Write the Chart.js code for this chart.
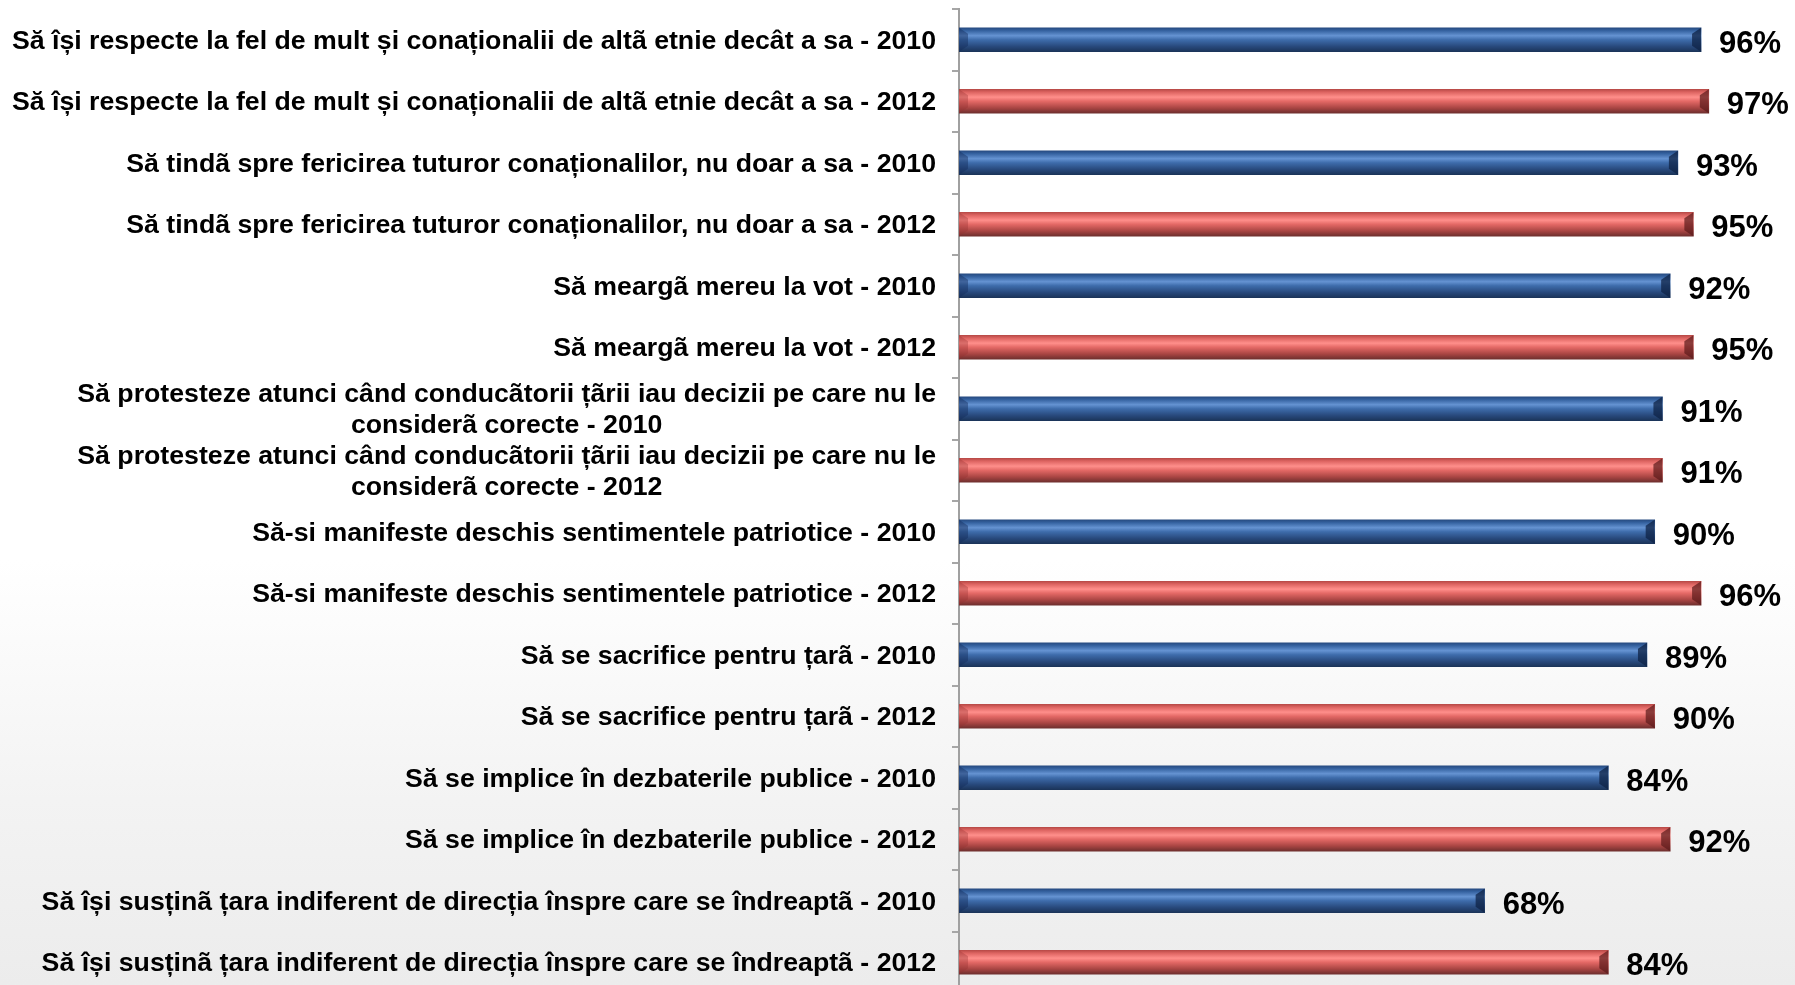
<!DOCTYPE html>
<html>
<head>
<meta charset="utf-8">
<script src="https://cdn.jsdelivr.net/npm/chart.js@4/dist/chart.umd.min.js"></script>
<style>
html,body{margin:0;padding:0;overflow:hidden;width:1795px;height:985px;}
body{background:linear-gradient(to bottom,#ffffff 0px,#ffffff 560px,#f3f3f3 800px,#ececec 985px);}
#wrap{position:absolute;left:0;top:0;width:1795px;height:1000px;}
</style>
</head>
<body>
<div id="wrap"><canvas id="c"></canvas></div>
<script>
// ---- data ----
const topics = [
  "Să își respecte la fel de mult și conaționalii de altã etnie decât a sa",
  "Să tindã spre fericirea tuturor conaționalilor, nu doar a sa",
  "Să meargã mereu la vot",
  ["Să protesteze atunci când conducãtorii țãrii iau decizii pe care nu le", "considerã corecte"],
  "Să-si manifeste deschis sentimentele patriotice",
  "Să se sacrifice pentru țarã",
  "Să se implice în dezbaterile publice",
  "Să își susținã țara indiferent de direcția înspre care se îndreaptã"
];
const years = ["2010", "2012"];
const values2010 = [96, 93, 92, 91, 90, 89, 84, 68];
const values2012 = [97, 95, 95, 91, 96, 90, 92, 84];

// build categories / values (2010 then 2012 for each topic)
const labels = [];
const values = [];
const yearOf = [];
topics.forEach((t, i) => {
  [values2010[i], values2012[i]].forEach((v, k) => {
    const y = years[k];
    if (Array.isArray(t)) labels.push([t[0], t[1] + " - " + y]);
    else labels.push(t + " - " + y);
    values.push(v);
    yearOf.push(y);
  });
});

const BAR_T = 24;
const blueStops = [[0,'#264a80'],[0.12,'#3562a0'],[0.33,'#6593d2'],[0.5,'#3e6cab'],[0.78,'#28497c'],[1,'#1b3459']];
const redStops  = [[0,'#b84a47'],[0.12,'#dd6461'],[0.33,'#ff8f8b'],[0.5,'#e46966'],[0.78,'#a94543'],[1,'#6e2f2e']];

function barFill(ctx) {
  const chart = ctx.chart;
  const stops = yearOf[ctx.dataIndex] === "2010" ? blueStops : redStops;
  if (!chart.chartArea || ctx.type !== 'data') return stops[3][1];
  const yc = chart.scales.y.getPixelForValue(ctx.dataIndex);
  const g = chart.ctx.createLinearGradient(0, yc - BAR_T / 2, 0, yc + BAR_T / 2);
  stops.forEach(s => g.addColorStop(s[0], s[1]));
  return g;
}

const LABEL_FONT = 'bold 26.7px "Liberation Sans", Arial, sans-serif';
const VALUE_FONT = 'bold 31px "Liberation Sans", Arial, sans-serif';

const textPlugin = {
  id: 'texts',
  afterDatasetsDraw(chart) {
    const c = chart.ctx;
    const yS = chart.scales.y;
    c.save();
    // category labels
    c.font = LABEL_FONT;
    c.fillStyle = '#000';
    c.textBaseline = 'alphabetic';
    c.textAlign = 'center';
    const right = yS.right - 23;
    labels.forEach((lab, i) => {
      const yc = yS.getPixelForValue(i);
      const lines = Array.isArray(lab) ? lab : [lab];
      const maxW = Math.max(...lines.map(l => c.measureText(l).width));
      const lh = 31;
      lines.forEach((l, k) => {
        const y = yc + (k - (lines.length - 1) / 2) * lh + 9;
        c.fillText(l, right - maxW / 2, y);
      });
    });
    // bevel ends + value labels
    const meta = chart.getDatasetMeta(0);
    meta.data.forEach((bar, i) => {
      const xEnd = bar.x, yc = bar.y, h = BAR_T;
      const dark = yearOf[i] === "2010" ? 'rgba(15,35,70,0.75)' : 'rgba(90,25,25,0.7)';
      c.fillStyle = dark;
      c.beginPath();
      c.moveTo(xEnd, yc - h / 2);
      c.lineTo(xEnd, yc + h / 2);
      c.lineTo(xEnd - 9, yc + h / 2 - 6);
      c.lineTo(xEnd - 9, yc - h / 2 + 6);
      c.closePath();
      c.fill();
      c.fillStyle = yearOf[i] === "2010" ? 'rgba(20,45,90,0.45)' : 'rgba(150,50,50,0.35)';
      c.beginPath();
      c.moveTo(bar.base, yc - h / 2);
      c.lineTo(bar.base + 9, yc - h / 2 + 6);
      c.lineTo(bar.base + 9, yc + h / 2 - 6);
      c.lineTo(bar.base, yc + h / 2);
      c.closePath();
      c.fill();
      c.font = VALUE_FONT;
      c.fillStyle = '#000';
      c.textAlign = 'left';
      c.fillText(values[i] + '%', xEnd + 18, yc + 13);
    });
    c.restore();
  }
};

new Chart(document.getElementById('c'), {
  type: 'bar',
  data: {
    labels: labels,
    datasets: [{
      data: values,
      backgroundColor: barFill,
      borderWidth: 0,
      barThickness: BAR_T
    }]
  },
  options: {
    indexAxis: 'y',
    responsive: true,
    maintainAspectRatio: false,
    animation: false,
    layout: { padding: { left: 0, right: 63, top: 9, bottom: 7 } },
    plugins: { legend: { display: false }, tooltip: { enabled: false } },
    scales: {
      x: { display: false, min: 0, max: 100 },
      y: {
        afterFit(s) { s.width = 959; },
        ticks: { display: false },
        grid: { display: true, drawOnChartArea: false, drawTicks: true, tickLength: 7, color: '#a6a6a6', lineWidth: 2, offset: true },
        border: { display: true, color: '#a0a0a0', width: 2 }
      }
    }
  },
  plugins: [textPlugin]
});
</script>
</body>
</html>
